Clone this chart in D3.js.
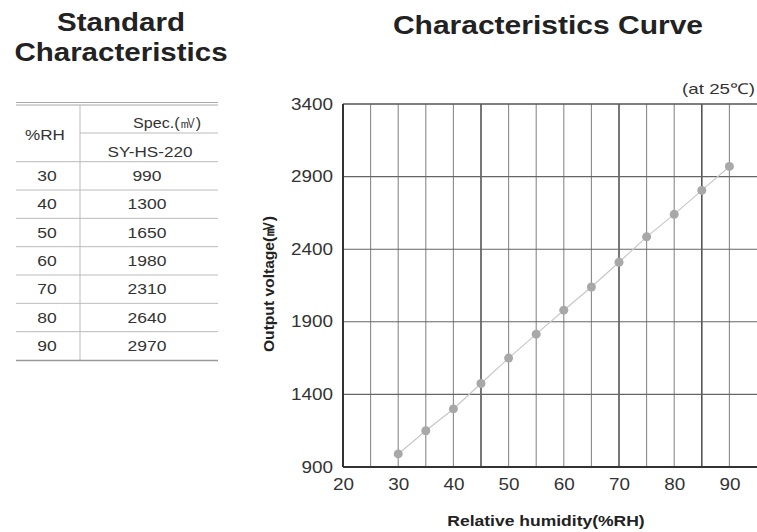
<!DOCTYPE html>
<html>
<head>
<meta charset="utf-8">
<script src="https://cdn.jsdelivr.net/npm/d3@7"></script>
<style>
  body { margin: 0; background: #fff; }
  svg { display: block; font-family: "Liberation Sans", Arial, sans-serif; }
</style>
</head>
<body>
<svg width="757" height="532"></svg>
<script>
// table data
const tableRH = [30, 40, 50, 60, 70, 80, 90];
const tableSpec = [990, 1300, 1650, 1980, 2310, 2640, 2970];

// curve data
const curveRH = [30, 35, 40, 45, 50, 55, 60, 65, 70, 75, 80, 85, 90];
const curveMV = [990, 1150, 1300, 1475, 1650, 1815, 1980, 2140, 2310, 2485, 2640, 2805, 2970];

const xTicks = [20, 30, 40, 50, 60, 70, 80, 90];
const xGrid = d3.range(20, 95, 5);
const yTicks = [900, 1400, 1900, 2400, 2900, 3400];

const svg = d3.select("svg");

// the scanned chart uses a wide font, so stretch the text horizontally
function stretch(sel, k) {
  sel.each(function () {
    const w = this.getComputedTextLength();
    d3.select(this).attr("textLength", w * k).attr("lengthAdjust", "spacingAndGlyphs");
  });
  return sel;
}

// ---- left: table ----
svg.append("text").attr("x", 121).attr("y", 31).attr("text-anchor", "middle")
  .attr("font-size", 25).attr("font-weight", "bold").attr("fill", "#222").text("Standard")
  .call(stretch, 1.18);
svg.append("text").attr("x", 121).attr("y", 61).attr("text-anchor", "middle")
  .attr("font-size", 25).attr("font-weight", "bold").attr("fill", "#222").text("Characteristics")
  .call(stretch, 1.18);

const tLeft = 16, tRight = 218, tMid = 80;
const rowY = d3.scaleBand().domain(tableRH).range([161.7, 360]);
const tg = svg.append("g").attr("fill", "#333").attr("font-size", 14);

tg.append("line").attr("x1", tLeft).attr("x2", tRight).attr("y1", 102.5).attr("y2", 102.5).attr("stroke", "#aaa");
tg.append("line").attr("x1", tLeft).attr("x2", tRight).attr("y1", 105).attr("y2", 105).attr("stroke", "#aaa");
tg.append("line").attr("x1", tMid).attr("x2", tRight).attr("y1", 133).attr("y2", 133).attr("stroke", "#bbb");
tg.append("line").attr("x1", tMid).attr("x2", tMid).attr("y1", 105).attr("y2", 360).attr("stroke", "#bbb");
tg.append("text").attr("x", 45).attr("y", 140).attr("text-anchor", "middle").text("%RH").call(stretch, 1.22);
tg.append("text").attr("x", 167).attr("y", 128).attr("text-anchor", "middle").text("Spec.(㎷)").call(stretch, 1.15);
tg.append("text").attr("x", 150).attr("y", 157).attr("text-anchor", "middle").text("SY-HS-220").call(stretch, 1.22);

tableRH.forEach((rh, i) => {
  const y0 = rowY(rh);
  tg.append("line").attr("x1", tLeft).attr("x2", tRight).attr("y1", y0).attr("y2", y0).attr("stroke", "#bbb");
  tg.append("text").attr("x", 47).attr("y", y0 + rowY.bandwidth() / 2 + 5)
    .attr("text-anchor", "middle").text(rh).call(stretch, 1.25);
  tg.append("text").attr("x", 147).attr("y", y0 + rowY.bandwidth() / 2 + 5)
    .attr("text-anchor", "middle").text(tableSpec[i]).call(stretch, 1.25);
});
tg.append("line").attr("x1", tLeft).attr("x2", tRight).attr("y1", 360.5).attr("y2", 360.5).attr("stroke", "#999").attr("stroke-width", 1.5);

// ---- right: curve ----
svg.append("text").attr("x", 548).attr("y", 34).attr("text-anchor", "middle")
  .attr("font-size", 25).attr("font-weight", "bold").attr("fill", "#222").text("Characteristics Curve")
  .call(stretch, 1.2);

const x = d3.scaleLinear().domain([20, 95]).range([343, 757]);
const y = d3.scaleLinear().domain([900, 3400]).range([467, 104]);

const grid = svg.append("g");
grid.selectAll("line.v").data(xGrid.slice(1)).join("line")
  .attr("x1", d => x(d)).attr("x2", d => x(d)).attr("y1", y(3400)).attr("y2", y(900))
  .attr("stroke", d => [45, 70, 85].includes(d) ? "#555" : "#8a8a8a")
  .attr("stroke-width", d => [45, 70, 85].includes(d) ? 1.6 : 1.1);
grid.selectAll("line.h").data(yTicks.slice(1, -1)).join("line")
  .attr("x1", x(20)).attr("x2", x(95)).attr("y1", d => y(d)).attr("y2", d => y(d))
  .attr("stroke", "#666").attr("stroke-width", 1.1);

// borders
svg.append("line").attr("x1", x(20)).attr("x2", x(95)).attr("y1", y(3400)).attr("y2", y(3400))
  .attr("stroke", "#555").attr("stroke-width", 1.6);
svg.append("line").attr("x1", x(20)).attr("x2", x(95)).attr("y1", y(900)).attr("y2", y(900))
  .attr("stroke", "#333").attr("stroke-width", 2);
svg.append("line").attr("x1", x(20)).attr("x2", x(20)).attr("y1", y(3400)).attr("y2", y(900))
  .attr("stroke", "#333").attr("stroke-width", 2);

// axes (labels only)
const xAxis = svg.append("g").attr("transform", `translate(0,${y(900)})`)
  .call(d3.axisBottom(x).tickValues(xTicks).tickSize(0).tickPadding(12));
const yAxis = svg.append("g").attr("transform", `translate(${x(20)},0)`)
  .call(d3.axisLeft(y).tickValues(yTicks).tickFormat(d3.format("d")).tickSize(0).tickPadding(10));
[xAxis, yAxis].forEach(a => {
  a.select(".domain").remove();
  a.selectAll("text").attr("font-size", 16).attr("fill", "#333")
    .attr("font-family", "'Liberation Sans', Arial, sans-serif")
    .call(stretch, 1.18);
});

// curve
const line = d3.line().x((d, i) => x(curveRH[i])).y(d => y(d));
svg.append("path").datum(curveMV).attr("d", line)
  .attr("fill", "none").attr("stroke", "#c8c8c8").attr("stroke-width", 1.2);
svg.selectAll("circle.pt").data(curveMV).join("circle")
  .attr("cx", (d, i) => x(curveRH[i])).attr("cy", d => y(d)).attr("r", 4.5)
  .attr("fill", "#a8a8a8");

// labels
svg.append("text").attr("x", 755).attr("y", 94).attr("text-anchor", "end")
  .attr("font-size", 15).attr("fill", "#333").text("(at 25℃)")
  .call(stretch, 1.25);
svg.append("text").attr("transform", "translate(274,284) rotate(-90)")
  .attr("text-anchor", "middle").attr("font-size", 15).attr("font-weight", "bold")
  .attr("fill", "#222").text("Output voltage(㎷)")
  .call(stretch, 1.04);
svg.append("text").attr("x", 546).attr("y", 526).attr("text-anchor", "middle")
  .attr("font-size", 14).attr("font-weight", "bold").attr("fill", "#222")
  .text("Relative humidity(%RH)")
  .call(stretch, 1.25);
</script>
</body>
</html>
